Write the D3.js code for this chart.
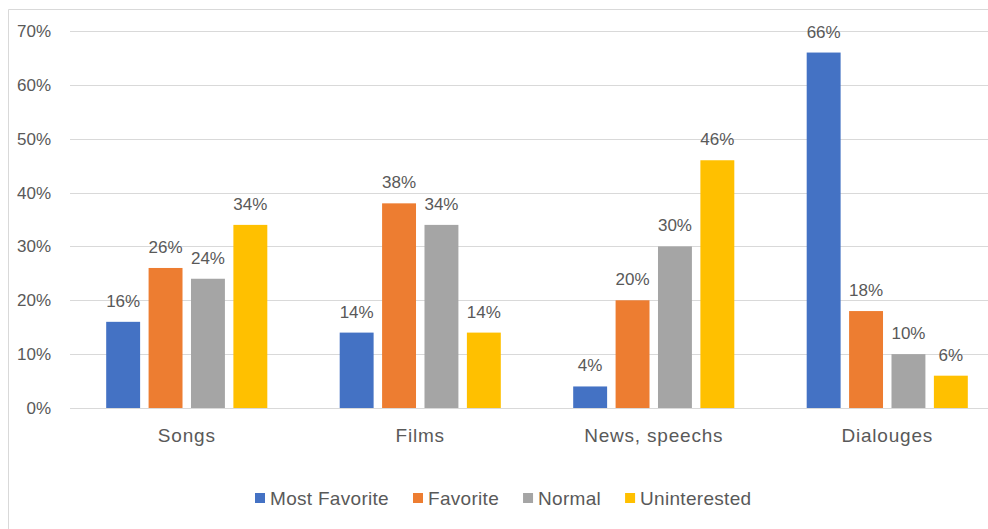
<!DOCTYPE html>
<html><head><meta charset="utf-8">
<script src="https://cdn.jsdelivr.net/npm/d3@7"></script>
<style>body{margin:0;background:#fff;} svg{display:block;font-family:"Liberation Sans",Arial,sans-serif;}</style>
</head><body>
<svg id="c" width="988" height="529"></svg>
<script>
const categories = ["Songs", "Films", "News, speechs", "Dialouges"];
const seriesNames = ["Most Favorite", "Favorite", "Normal", "Uninterested"];
const mostFavorite = [16, 14, 4, 66];
const favorite = [26, 38, 20, 18];
const normal = [24, 34, 30, 10];
const uninterested = [34, 14, 46, 6];
const yTicks = [0, 10, 20, 30, 40, 50, 60, 70];
const colors = ["#4472c4", "#ed7d31", "#a5a5a5", "#ffc000"];

const seriesValues = [mostFavorite, favorite, normal, uninterested];
const svg = d3.select("#c");
const textColor = "#595959";

// frame
svg.append("path").attr("d", "M8.5,529 V9.5 H988").attr("fill", "none").attr("stroke", "#d9d9d9");

const x0 = d3.scaleBand().domain(categories).range([70, 1004]).paddingInner(0.31).paddingOuter(0.155);
const x1 = d3.scaleBand().domain(seriesNames).range([0, x0.bandwidth()]).paddingInner(0.2);
const y = d3.scaleLinear().domain([0, 70]).range([408, 31]);

// gridlines
svg.append("g").selectAll("line").data(yTicks).join("line")
  .attr("x1", 70).attr("x2", 988)
  .attr("y1", d => Math.round(y(d)) + 0.5).attr("y2", d => Math.round(y(d)) + 0.5)
  .attr("stroke", "#d9d9d9").attr("stroke-width", 1);

// y tick labels
svg.append("g").selectAll("text").data(yTicks).join("text")
  .attr("x", 51).attr("y", d => y(d)).attr("dy", "0.35em")
  .attr("text-anchor", "end").attr("font-size", 17).attr("fill", textColor)
  .text(d => d + "%");

// bars
const groups = svg.append("g").selectAll("g").data(categories).join("g")
  .attr("transform", c => `translate(${x0(c)},0)`);

groups.each(function(c, ci) {
  const g = d3.select(this);
  const rows = seriesNames.map((s, si) => ({s, si, v: seriesValues[si][ci]}));
  g.selectAll("rect").data(rows).join("rect")
    .attr("x", d => x1(d.s)).attr("width", x1.bandwidth())
    .attr("y", d => y(d.v)).attr("height", d => y(0) - y(d.v))
    .attr("fill", d => colors[d.si]);
  g.selectAll("text").data(rows).join("text")
    .attr("x", d => x1(d.s) + x1.bandwidth() / 2).attr("y", d => y(d.v) - 15)
    .attr("text-anchor", "middle").attr("font-size", 17).attr("fill", textColor)
    .text(d => d.v + "%");
});

// axis baseline
svg.append("line").attr("x1", 70).attr("x2", 988).attr("y1", 408.5).attr("y2", 408.5)
  .attr("stroke", "#d9d9d9");

// category labels
svg.append("g").selectAll("text").data(categories).join("text")
  .attr("x", c => x0(c) + x0.bandwidth() / 2).attr("y", 441.5)
  .attr("text-anchor", "middle").attr("font-size", 19).attr("letter-spacing", 0.8)
  .attr("fill", textColor)
  .text(c => c);

// legend
const legend = svg.append("g");
let lx = 255;
seriesNames.forEach((s, i) => {
  legend.append("rect").attr("x", lx).attr("y", 493).attr("width", 10).attr("height", 10).attr("fill", colors[i]);
  const t = legend.append("text").attr("x", lx + 15).attr("y", 505).attr("font-size", 19)
    .attr("letter-spacing", 0.3).attr("fill", textColor).text(s);
  const w = t.node().getComputedTextLength();
  lx = lx + 15 + w + 24;
});
</script>
</body></html>
